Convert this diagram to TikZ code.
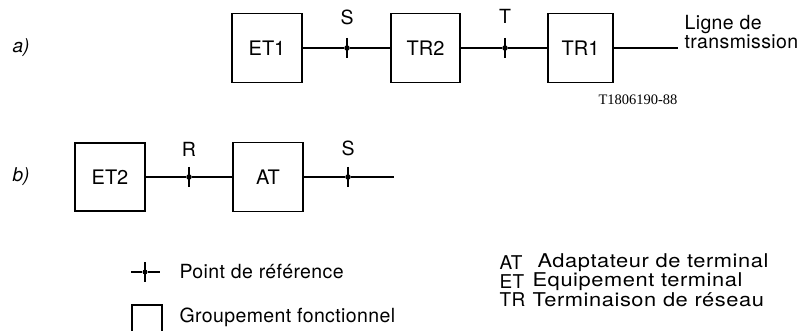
\documentclass[tikz,border=0pt]{standalone}
\usepackage{fontspec}
\setmainfont{TeX Gyre Heros}
\newfontfamily\codefont{Liberation Serif}
\newfontfamily\spacedfont{TeX Gyre Heros}[LetterSpace=2]
\newfontfamily\widefont{TeX Gyre Heros}[LetterSpace=3,FakeStretch=1.15]
\begin{document}
\begin{tikzpicture}[x=1pt,y=-1pt,line width=1.1pt,
  fb/.style={draw,minimum width=70pt,minimum height=69pt,inner sep=0pt,font=\fontsize{20}{24}\selectfont},
  txt/.style={inner sep=0pt,font=\fontsize{19.5}{24}\selectfont},
  leg/.style={inner sep=0pt,anchor=west,font=\spacedfont\fontsize{19.5}{24}\selectfont},
  abbr/.style={inner sep=0pt,anchor=west,font=\spacedfont\fontsize{19}{22}\selectfont},
  desc/.style={inner sep=0pt,anchor=west,font=\widefont\fontsize{19}{22}\selectfont},
  rp/.style={circle,fill,inner sep=0pt,minimum size=5.5pt},
  tag/.style={inner sep=0pt,font=\fontsize{19}{22}\selectfont\itshape}]
\clip (0,0) rectangle (808,331);
\useasboundingbox (0,0) rectangle (808,331);
% row a
\node[tag] (la) at (21,48) {a)};
\node[fb] (et1) at (267,48) {ET1};
\node[fb,minimum width=69pt] (tr2) at (425.5,48) {TR2};
\node[fb,minimum width=65pt] (tr1) at (580.5,48) {TR1};
\node[rp] (sa) at (347,48) {};
\node[rp] (ta) at (505,48) {};
\coordinate (lend) at (678,48);
\draw (et1) -- (sa) -- (tr2);
\draw (tr2) -- (ta) -- (tr1);
\draw (tr1) -- (lend);
\draw ([yshift=10pt]sa.center) -- ([yshift=-10pt]sa.center);
\draw ([yshift=10pt]ta.center) -- ([yshift=-10pt]ta.center);
\node[txt] (lsa) at (347,17) {S};
\node[txt] (lta) at (505,16) {T};
\node[txt,align=left,anchor=north west,font=\spacedfont\fontsize{19.5}{17}\selectfont] (ligne) at (684,15) {Ligne de\\transmission};
\node[inner sep=0pt,font=\codefont\fontsize{14.5}{16}\selectfont] (code) at (638,100) {T1806190-88};
% row b
\node[tag] (lb) at (21,177) {b)};
\node[fb,minimum height=68pt] (et2) at (110,177) {ET2};
\node[fb] (at) at (268,177) {AT};
\node[rp] (rb) at (189,177) {};
\node[rp] (sb) at (348,177) {};
\coordinate (bend) at (394,177);
\draw (et2) -- (rb) -- (at);
\draw (at) -- (sb) -- (bend);
\draw ([yshift=10pt]rb.center) -- ([yshift=-10pt]rb.center);
\draw ([yshift=10pt]sb.center) -- ([yshift=-10pt]sb.center);
\node[txt] (lrb) at (189,149) {R};
\node[txt] (lsb) at (348,148) {S};
% legend
\node[rp,minimum size=5pt] (lgp) at (145,272) {};
\coordinate (lgl) at (131,272);
\coordinate (lgr) at (160,272);
\draw (lgl) -- (lgp) -- (lgr);
\draw ([yshift=10pt]lgp.center) -- ([yshift=-10pt]lgp.center);
\node[leg] (pdr) at (179,272) {Point de référence};
\node[draw,minimum width=30pt,minimum height=34pt,inner sep=0pt] (lgb) at (147,322) {};
\node[leg] (gf) at (179,317) {Groupement fonctionnel};
\node[abbr] (abat) at (499,263) {AT};
\node[abbr] (abet) at (499,281.5) {ET};
\node[abbr] (abtr) at (499,300) {TR};
\node[desc] (dat) at (537,263) {Adaptateur de terminal};
\node[desc] (det) at (532,281.5) {Equipement terminal};
\node[desc] (dtr) at (532,300) {Terminaison de réseau};
\end{tikzpicture}
\end{document}
